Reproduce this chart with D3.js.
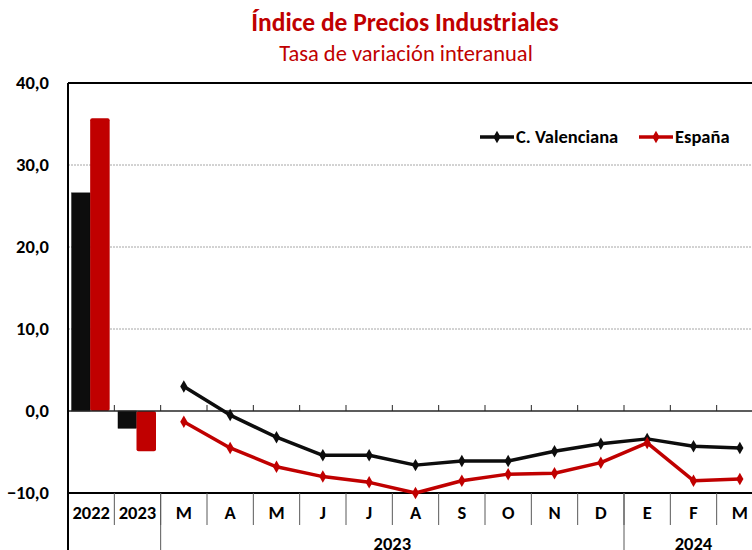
<!DOCTYPE html>
<html>
<head>
<meta charset="utf-8">
<script src="https://cdn.jsdelivr.net/npm/d3@7"></script>
<style>
  body { margin: 0; background: #fff; }
  svg { font-family: Carlito, Lato, "Open Sans", sans-serif; }
</style>
</head>
<body>
<svg width="752" height="550"></svg>
<script>
// categories on the x axis
var categories = ["2022", "2023", "M", "A", "M2", "J", "J2", "A2", "S", "O", "N", "D", "E", "F", "M3"];
var catLabels = ["2022", "2023", "M", "A", "M", "J", "J", "A", "S", "O", "N", "D", "E", "F", "M"];
// annual bars
var barYears = ["2022", "2023"];
var barCV = [26.6, -2.1];
var barES = [35.7, -4.9];
// monthly lines
var months = ["M", "A", "M2", "J", "J2", "A2", "S", "O", "N", "D", "E", "F", "M3"];
var lineCV = [3.0, -0.5, -3.2, -5.4, -5.4, -6.6, -6.1, -6.1, -4.9, -4.0, -3.4, -4.3, -4.5];
var lineES = [-1.3, -4.5, -6.8, -8.0, -8.7, -10.0, -8.5, -7.7, -7.6, -6.3, -3.9, -8.5, -8.3];
var yTicks = [-10, 0, 10, 20, 30, 40];
// year groups under the months
var yearGroups = [{label: "2023", from: "M", to: "D"}, {label: "2024", from: "E", to: "M3"}];

var red = "#c00000", black = "#0d0d0d";
var pLeft = 68, pRight = 763, pTop = 83, pBottom = 493;

var svg = d3.select("svg");

var x = d3.scaleBand().domain(categories).range([pLeft, pRight]);
var y = d3.scaleLinear().domain([-10, 40]).range([pBottom, pTop]);

// titles
svg.append("text").attr("x", 405).attr("y", 31).attr("text-anchor", "middle")
   .attr("fill", red).attr("font-weight", "bold").attr("font-size", "25.5px")
   .text("Índice de Precios Industriales");
svg.append("text").attr("x", 406).attr("y", 61).attr("text-anchor", "middle")
   .attr("fill", red).attr("font-size", "22.5px")
   .text("Tasa de variación interanual");

// gridlines
svg.append("g").selectAll("line").data([10, 20, 30]).enter().append("line")
   .attr("x1", pLeft).attr("x2", pRight)
   .attr("y1", function(d){ return y(d); }).attr("y2", function(d){ return y(d); })
   .attr("stroke", "#a6a6a6").attr("stroke-dasharray", "2,1").attr("stroke-width", 1);

// y labels
svg.append("g").selectAll("text").data(yTicks).enter().append("text")
   .attr("x", 49).attr("y", function(d){ return y(d) + 6; })
   .attr("text-anchor", "end").attr("font-weight", "bold").attr("font-size", "18.5px")
   .attr("fill", "#000")
   .text(function(d){ return d3.format(".1f")(d).replace(".", ","); });

// bars
var bw = 18.5;
barYears.forEach(function(c, i){
  var cx = x(c) + x.bandwidth() / 2;
  svg.append("rect").attr("x", cx - bw - 1).attr("width", bw)
     .attr("y", y(Math.max(0, barCV[i]))).attr("height", Math.abs(y(barCV[i]) - y(0)))
     .attr("fill", black).attr("stroke", "#000").attr("stroke-width", 0.5);
  svg.append("rect").attr("x", cx - 1).attr("width", bw + 1)
     .attr("y", y(Math.max(0, barES[i]))).attr("height", Math.abs(y(barES[i]) - y(0)))
     .attr("fill", red).attr("rx", 2);
});

// zero line and ticks
svg.append("line").attr("x1", pLeft).attr("x2", pRight).attr("y1", y(0)).attr("y2", y(0))
   .attr("stroke", "#262626").attr("stroke-width", 1.5);
svg.append("g").selectAll("line").data(categories.slice(1)).enter().append("line")
   .attr("x1", function(d){ return x(d); }).attr("x2", function(d){ return x(d); })
   .attr("y1", y(0)).attr("y2", y(0) - 6)
   .attr("stroke", "#262626").attr("stroke-width", 1);

// plot frame
svg.append("line").attr("x1", pLeft).attr("x2", pRight).attr("y1", pTop).attr("y2", pTop)
   .attr("stroke", "#000").attr("stroke-width", 2);
svg.append("line").attr("x1", pLeft).attr("x2", pRight).attr("y1", pBottom).attr("y2", pBottom)
   .attr("stroke", "#000").attr("stroke-width", 2);
svg.append("line").attr("x1", pLeft).attr("x2", pLeft).attr("y1", pTop).attr("y2", 550)
   .attr("stroke", "#000").attr("stroke-width", 2);

// category separators and labels
svg.append("g").selectAll("line").data(categories.slice(1)).enter().append("line")
   .attr("x1", function(d){ return x(d); }).attr("x2", function(d){ return x(d); })
   .attr("y1", pBottom).attr("y2", 525)
   .attr("stroke", "#595959").attr("stroke-width", 1);
svg.append("g").selectAll("text").data(categories).enter().append("text")
   .attr("x", function(d){ return x(d) + x.bandwidth() / 2; }).attr("y", 519)
   .attr("text-anchor", "middle").attr("font-weight", "bold").attr("font-size", "18.5px")
   .text(function(d, i){ return catLabels[i]; });

// year groups
yearGroups.forEach(function(g){
  var x0 = x(g.from), x1 = x(g.to) + x.bandwidth();
  svg.append("line").attr("x1", x0).attr("x2", x0).attr("y1", pBottom).attr("y2", 550)
     .attr("stroke", "#595959").attr("stroke-width", 1);
  svg.append("text").attr("x", (x0 + Math.min(x1, pRight)) / 2).attr("y", 550)
     .attr("text-anchor", "middle").attr("font-weight", "bold").attr("font-size", "18.5px")
     .text(g.label);
});

// lines
var line = d3.line()
  .x(function(d, i){ return x(months[i]) + x.bandwidth() / 2; })
  .y(function(d){ return y(d); });
var diamond = d3.symbol().type(d3.symbolDiamond).size(45);

[[lineCV, black], [lineES, red]].forEach(function(s){
  svg.append("path").attr("d", line(s[0])).attr("fill", "none")
     .attr("stroke", s[1]).attr("stroke-width", 3.5).attr("stroke-linejoin", "round");
  svg.append("g").selectAll("path").data(s[0]).enter().append("path")
     .attr("d", diamond)
     .attr("transform", function(d, i){ return "translate(" + (x(months[i]) + x.bandwidth() / 2) + "," + y(d) + ")"; })
     .attr("fill", s[1]);
});

// legend
var legend = [{name: "C. Valenciana", color: black, x: 480}, {name: "España", color: red, x: 639}];
legend.forEach(function(l){
  svg.append("line").attr("x1", l.x).attr("x2", l.x + 34).attr("y1", 137).attr("y2", 137)
     .attr("stroke", l.color).attr("stroke-width", 3.5);
  svg.append("path").attr("d", diamond).attr("transform", "translate(" + (l.x + 17) + ",137)")
     .attr("fill", l.color);
  svg.append("text").attr("x", l.x + 36).attr("y", 143)
     .attr("font-weight", "bold").attr("font-size", "18.5px").text(l.name);
});
</script>
</body>
</html>
